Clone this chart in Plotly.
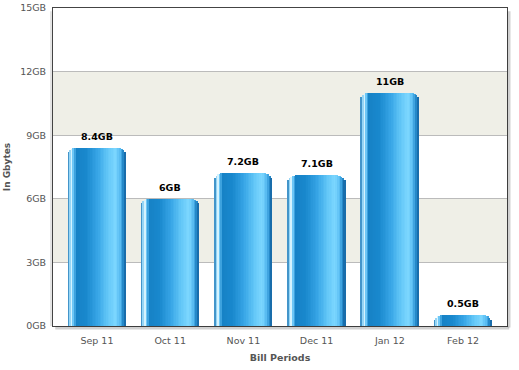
import math
import plotly.graph_objects as go

categories = ["Sep 11", "Oct 11", "Nov 11", "Dec 11", "Jan 12", "Feb 12"]
usage_gb = [8.4, 6, 7.2, 7.1, 11, 0.5]
labels = ["8.4GB", "6GB", "7.2GB", "7.1GB", "11GB", "0.5GB"]
y_ticks = [0, 3, 6, 9, 12, 15]
y_tick_text = ["0GB", "3GB", "6GB", "9GB", "12GB", "15GB"]

# gradient stops across bar width (fraction, rgb)
stops = [
    (0.00, (30, 110, 170)),
    (0.03, (110, 195, 240)),
    (0.065, (230, 250, 255)),
    (0.10, (100, 195, 245)),
    (0.15, (22, 130, 198)),
    (0.32, (25, 136, 205)),
    (0.52, (55, 165, 230)),
    (0.70, (100, 200, 248)),
    (0.83, (125, 215, 255)),
    (0.91, (85, 185, 240)),
    (0.96, (35, 135, 200)),
    (1.00, (20, 95, 155)),
]

def color_at(f):
    for (f0, c0), (f1, c1) in zip(stops[:-1], stops[1:]):
        if f0 <= f <= f1:
            t = (f - f0) / (f1 - f0) if f1 > f0 else 0
            c = [round(a + (b - a) * t) for a, b in zip(c0, c1)]
            return f"rgb({c[0]},{c[1]},{c[2]})"
    return "rgb(30,140,200)"

W, H = 519, 370
ml, mr, mt, mb = 53, 12, 8, 44
x_range = [-0.6, 5.6]
y_range = [0, 15]
px_per_x = (W - ml - mr) / (x_range[1] - x_range[0])
px_per_y = (H - mt - mb) / (y_range[1] - y_range[0])

bar_w = 0.79
N = 36
strip = bar_w / N
radius_px = 8.0

fig = go.Figure()
xs = list(range(len(categories)))
for i in range(N):
    f = (i + 0.5) / N
    d_px = min(f, 1 - f) * bar_w * px_per_x
    drop_px = 0.0
    if d_px < radius_px:
        drop_px = radius_px - math.sqrt(radius_px**2 - (radius_px - d_px) ** 2)
    drop = drop_px / px_per_y
    ys = [max(v - drop, 0) for v in usage_gb]
    fig.add_trace(go.Bar(
        x=xs, y=ys, width=strip * 1.05, offset=-bar_w / 2 + i * strip,
        marker=dict(color=color_at(f), line=dict(width=0)),
        hoverinfo="skip", showlegend=False,
    ))

annotations = []
for x, v, t in zip(xs, usage_gb, labels):
    annotations.append(dict(
        x=x, y=v, xref="x", yref="y", text=f"<b>{t}</b>", showarrow=False,
        yanchor="bottom", yshift=4,
        font=dict(family="DejaVu Sans", size=9.5, color="#000000"),
    ))

shapes = []
# alternating bands
for lo, hi in [(3, 6), (9, 12)]:
    shapes.append(dict(type="rect", xref="paper", yref="y", x0=0, x1=1, y0=lo, y1=hi,
                       fillcolor="#EFEFE7", line=dict(width=0), layer="below"))
# shadow of frame
shadow = "rgba(0,0,0,0.18)"
shapes.append(dict(type="line", xref="paper", yref="paper", xsizemode="pixel", xanchor=1,
                   x0=2, x1=2, y0=-0.005, y1=0.99, line=dict(color=shadow, width=3)))
shapes.append(dict(type="line", xref="paper", yref="paper", ysizemode="pixel", yanchor=0,
                   y0=-2, y1=-2, x0=0.005, x1=1.005, line=dict(color=shadow, width=3)))
shapes.append(dict(type="line", xref="paper", yref="paper", xsizemode="pixel", xanchor=0,
                   x0=-2, x1=-2, y0=0, y1=0.99, line=dict(color="rgba(0,0,0,0.10)", width=2)))

fig.update_layout(
    width=W, height=H,
    margin=dict(l=ml, r=mr, t=mt, b=mb, autoexpand=False),
    paper_bgcolor="white", plot_bgcolor="white",
    barmode="overlay", bargap=0,
    shapes=shapes, annotations=annotations,
    font=dict(family="DejaVu Sans", size=9.5, color="#555555"),
    xaxis=dict(
        range=x_range, tickmode="array", tickvals=xs, ticktext=categories,
        showgrid=False, zeroline=False, showline=True, mirror=True,
        linecolor="#444444", linewidth=1, ticks="", ticklabelstandoff=6,
        title=dict(text="<b>Bill Periods</b>", font=dict(size=9.5, color="#555555"), standoff=8),
        fixedrange=True, automargin=False,
    ),
    yaxis=dict(
        range=y_range, tickmode="array", tickvals=y_ticks, ticktext=y_tick_text,
        showgrid=True, gridcolor="#BBBBBB", gridwidth=1, zeroline=False,
        showline=True, mirror=True, linecolor="#444444", linewidth=1, ticks="",
        ticklabelstandoff=4,
        title=dict(text="<b>In Gbytes</b>", font=dict(size=9, color="#555555"), standoff=7),
        fixedrange=True, automargin=False,
    ),
)

fig.write_html("out.html")
